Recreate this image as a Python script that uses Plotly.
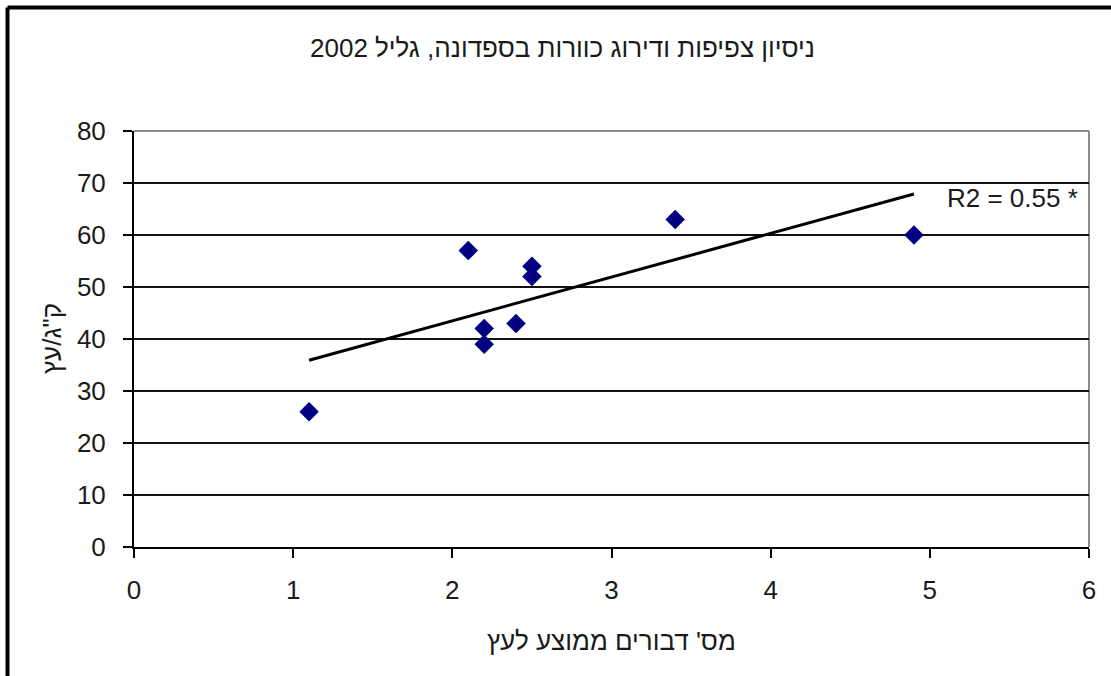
import numpy as np
import plotly.graph_objects as go

# Average bees per tree vs. yield per tree (kg)
bees_per_tree = [1.1, 2.1, 2.2, 2.2, 2.4, 2.5, 2.5, 3.4, 4.9]
kg_per_tree = [26, 57, 42, 39, 43, 54, 52, 63, 60]

title_text = "ניסיון צפיפות ודירוג כוורות בספדונה, גליל 2002"
x_title = "מס' דבורים ממוצע לעץ"
y_title = "ק\"ג/עץ"

x_ticks = [0, 1, 2, 3, 4, 5, 6]
y_ticks = [0, 10, 20, 30, 40, 50, 60, 70, 80]

# Linear trend line over the observed x range
xs = np.array(bees_per_tree, dtype=float)
ys = np.array(kg_per_tree, dtype=float)
slope, intercept = np.polyfit(xs, ys, 1)
r2 = np.corrcoef(xs, ys)[0, 1] ** 2
trend_x = [xs.min(), xs.max()]
trend_y = [slope * v + intercept for v in trend_x]

W, H = 1111, 676
L, R, T, B = 134, 22, 131, 129
PW, PH = W - L - R, H - T - B


def px(xp):
    return (xp - L) / PW


def py(yp):
    return (H - B - yp) / PH


FONT = "Liberation Sans, Arial, sans-serif"
TXT = "#1a1a1a"

fig = go.Figure()
fig.add_trace(go.Scatter(
    x=trend_x, y=trend_y, mode="lines",
    line=dict(color="black", width=3), hoverinfo="skip", showlegend=False,
))
fig.add_trace(go.Scatter(
    x=bees_per_tree, y=kg_per_tree, mode="markers",
    marker=dict(symbol="diamond", size=15, color="#000080"),
    showlegend=False,
))

axis_common = dict(
    showline=True, linecolor="black", linewidth=2,
    ticks="outside", ticklen=9, tickwidth=2, tickcolor="black",
    tickfont=dict(family=FONT, size=26, color=TXT),
    zeroline=False, fixedrange=True,
)
fig.update_xaxes(range=[0, 6], tickvals=x_ticks, showgrid=False,
                 ticklabelstandoff=10, **axis_common)
fig.update_yaxes(range=[0, 80], tickvals=y_ticks, showgrid=True,
                 gridcolor="#111", gridwidth=2, ticklabelstandoff=12,
                 **axis_common)

shapes = [
    # grey border on the top and right of the plot area
    dict(type="line", xref="paper", yref="paper", x0=0, x1=1, y0=1, y1=1,
         line=dict(color="#8c8c8c", width=2), layer="below"),
    dict(type="line", xref="paper", yref="paper", x0=1, x1=1, y0=0, y1=1,
         line=dict(color="#8c8c8c", width=2), layer="below"),
    # chart-area frame
    dict(type="line", xref="paper", yref="paper",
         x0=px(7.5), x1=px(1130), y0=py(7.5), y1=py(7.5),
         line=dict(color="black", width=4)),
    dict(type="line", xref="paper", yref="paper",
         x0=px(7.5), x1=px(7.5), y0=py(7.5), y1=py(700),
         line=dict(color="black", width=4)),
]

annotations = [
    dict(text=title_text, xref="paper", yref="paper", x=px(562), y=py(48),
         showarrow=False, xanchor="center", yanchor="middle",
         font=dict(family=FONT, size=26, color=TXT)),
    dict(text=x_title, xref="paper", yref="paper", x=px(611), y=py(641),
         showarrow=False, xanchor="center", yanchor="middle",
         font=dict(family=FONT, size=26, color=TXT)),
    dict(text=y_title, xref="paper", yref="paper", x=px(52), y=py(339),
         showarrow=False, xanchor="center", yanchor="middle", textangle=-90,
         font=dict(family=FONT, size=26, color=TXT)),
    dict(text=f"R2 = {r2:.2f} *", xref="paper", yref="paper",
         x=px(945), y=py(198), showarrow=False,
         xanchor="left", yanchor="middle",
         font=dict(family=FONT, size=26, color=TXT)),
]

fig.update_layout(
    width=W, height=H,
    margin=dict(l=L, r=R, t=T, b=B, pad=0),
    paper_bgcolor="white", plot_bgcolor="white",
    shapes=shapes, annotations=annotations,
    showlegend=False,
)

fig.write_html("out.html", config={"displayModeBar": False})
